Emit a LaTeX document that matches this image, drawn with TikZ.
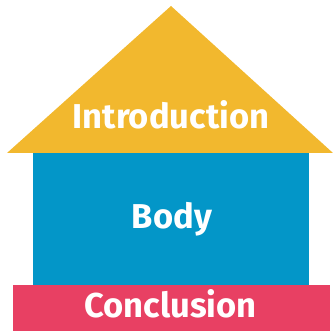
\documentclass[tikz,border=0pt]{standalone}
\usepackage{fontspec}
\setmainfont{Fira Sans}
\definecolor{roofcol}{RGB}{242,184,46}
\definecolor{bodycol}{RGB}{3,150,200}
\definecolor{basecol}{RGB}{232,64,99}
\begin{document}
\begin{tikzpicture}[x=1pt,y=-1pt,
  label text/.style={text=white,font=\fontsize{34.5}{38}\selectfont\bfseries,anchor=base,inner sep=0pt}]
\useasboundingbox (0,0) rectangle (333,331);
% roof
\fill[roofcol] (7,153) -- (171,6) -- (333,153) -- cycle;
% walls
\fill[bodycol] (33,153) rectangle (309,285);
% foundation
\fill[basecol] (13,285) rectangle (330,331);
\node[label text] (intro) at (171,129) {Introduction};
\node[label text] (body) at (172,229) {Body};
\node[label text] (concl) at (170.5,318) {Conclusion};
\end{tikzpicture}
\end{document}
